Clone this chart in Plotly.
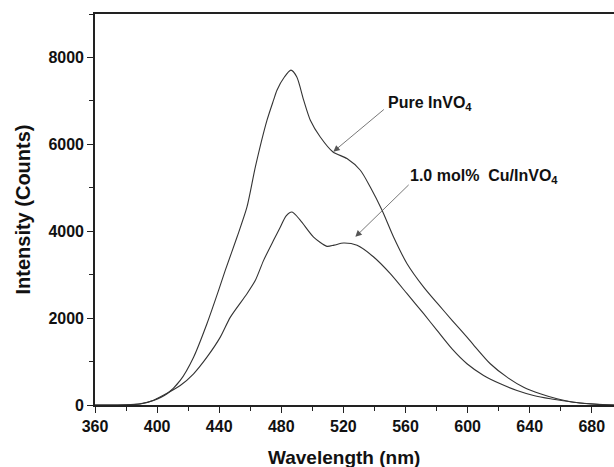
import plotly.graph_objects as go

# Pure InVO4 emission spectrum
pure_wl = [360, 370, 380, 389, 397.7, 406.4, 414.9, 423.5, 432.1, 439.6, 443.9, 451.5,
           457.9, 463.3, 470.8, 475.0, 477.2, 482.0, 486.2, 490.0, 494.4, 498.7, 505.1,
           513.3, 522.3, 530.9, 537.3, 544.9, 552.3, 561.0, 571.7, 581.0, 590.0, 599.6,
           603.9, 614.6, 625.4, 636.1, 646.8, 657.6, 668.3, 679.0, 690.0, 695.0]
pure_int = [0, 0, 5, 28, 104, 258, 565, 1101, 1871, 2638, 3099, 3866,
            4558, 5479, 6555, 7016, 7247, 7550, 7707, 7550, 7016, 6555, 6170,
            5825, 5672, 5403, 5018, 4482, 3866, 3253, 2714, 2320, 1950, 1562,
            1380, 949, 641, 410, 258, 143, 65, 28, 5, 0]

# 1.0 mol% Cu/InVO4 emission spectrum
cu_wl = [360, 375, 385, 390, 397.7, 406.4, 414.9, 423.5, 432.1, 440.7, 447.2, 457.9,
         463.3, 468.6, 475.0, 479.4, 483.0, 486.9, 492.3, 500.8, 509.4, 514.0, 520.1,
         528.8, 539.5, 550.2, 561.0, 571.7, 580.3, 590.0, 599.6, 610.3, 621.1, 631.8,
         642.5, 653.3, 664.0, 674.7, 685.0, 695.0]
cu_int = [0, 0, 10, 30, 110, 270, 449, 719, 1101, 1562, 2023, 2562,
          2869, 3329, 3790, 4097, 4350, 4442, 4251, 3866, 3652, 3680, 3728,
          3675, 3406, 3023, 2562, 2101, 1717, 1290, 949, 680, 488, 334,
          219, 143, 88, 41, 10, 0]

x_ticks = [360, 400, 440, 480, 520, 560, 600, 640, 680]
y_ticks = [0, 2000, 4000, 6000, 8000]

FONT = "Liberation Sans, Arial, sans-serif"
LINE = "#333333"
TXT = "#111111"

fig = go.Figure()
fig.add_trace(go.Scatter(x=pure_wl, y=pure_int, mode="lines", name="Pure InVO4",
                         line=dict(color=LINE, width=1.1, shape="spline", smoothing=0.7)))
fig.add_trace(go.Scatter(x=cu_wl, y=cu_int, mode="lines", name="1.0 mol% Cu/InVO4",
                         line=dict(color=LINE, width=1.1, shape="spline", smoothing=0.7)))

# arrows
fig.add_annotation(x=513.5, y=5830, ax=547, ay=6830, xref="x", yref="y", axref="x", ayref="y",
                   text="", showarrow=True, arrowhead=2, arrowsize=1.6, arrowwidth=0.8,
                   arrowcolor="#555555")
fig.add_annotation(x=527.7, y=3870, ax=563, ay=5100, xref="x", yref="y", axref="x", ayref="y",
                   text="", showarrow=True, arrowhead=2, arrowsize=1.6, arrowwidth=0.8,
                   arrowcolor="#555555")
# labels
fig.add_annotation(x=547.5, y=6950, xref="x", yref="y", text="Pure InVO<sub>4</sub>",
                   showarrow=False, xanchor="left", yanchor="middle",
                   font=dict(family=FONT, size=16, color=TXT, weight="bold"))
fig.add_annotation(x=561.5, y=5250, xref="x", yref="y", text="1.0 mol%  Cu/InVO<sub>4</sub>",
                   showarrow=False, xanchor="left", yanchor="middle",
                   font=dict(family=FONT, size=16, color=TXT, weight="bold"))

# x-axis title placed by pixel position
fig.add_annotation(x=(344 - 95) / 519, y=-(457 - 404.5) / 390.5, xref="paper", yref="paper",
                   text="Wavelength (nm)", showarrow=False, yanchor="middle",
                   font=dict(family=FONT, size=19, color=TXT, weight="bold"))

fig.update_layout(
    width=614, height=467,
    margin=dict(l=95, r=0, t=14, b=62),
    paper_bgcolor="white", plot_bgcolor="white",
    showlegend=False,
    font=dict(family=FONT, color=TXT),
    xaxis=dict(range=[360, 694.3], tickvals=x_ticks, ticks="outside", ticklen=6, tickwidth=1.3,
               tickcolor="#222222", showline=True, linecolor="#222222", linewidth=1.6,
               mirror=True, showgrid=False, zeroline=False,
               tickfont=dict(family=FONT, size=16, color=TXT, weight="bold"),
               minor=dict(dtick=20, tick0=360, ticks="outside", ticklen=4, tickwidth=1.2,
                          tickcolor="#222222", showgrid=False),
               title=dict(text="")),
    yaxis=dict(range=[0, 9000], tickvals=y_ticks, ticks="outside", ticklen=6, tickwidth=1.3,
               tickcolor="#222222", showline=True, linecolor="#222222", linewidth=1.6,
               mirror=False, showgrid=False, zeroline=False,
               tickfont=dict(family=FONT, size=16, color=TXT, weight="bold"),
               minor=dict(dtick=1000, tick0=0, ticks="outside", ticklen=4, tickwidth=1.2,
                          tickcolor="#222222", showgrid=False),
               title=dict(text="Intensity (Counts)", standoff=12,
                          font=dict(family=FONT, size=20, color=TXT, weight="bold"))),
)

fig.write_html("out.html")
